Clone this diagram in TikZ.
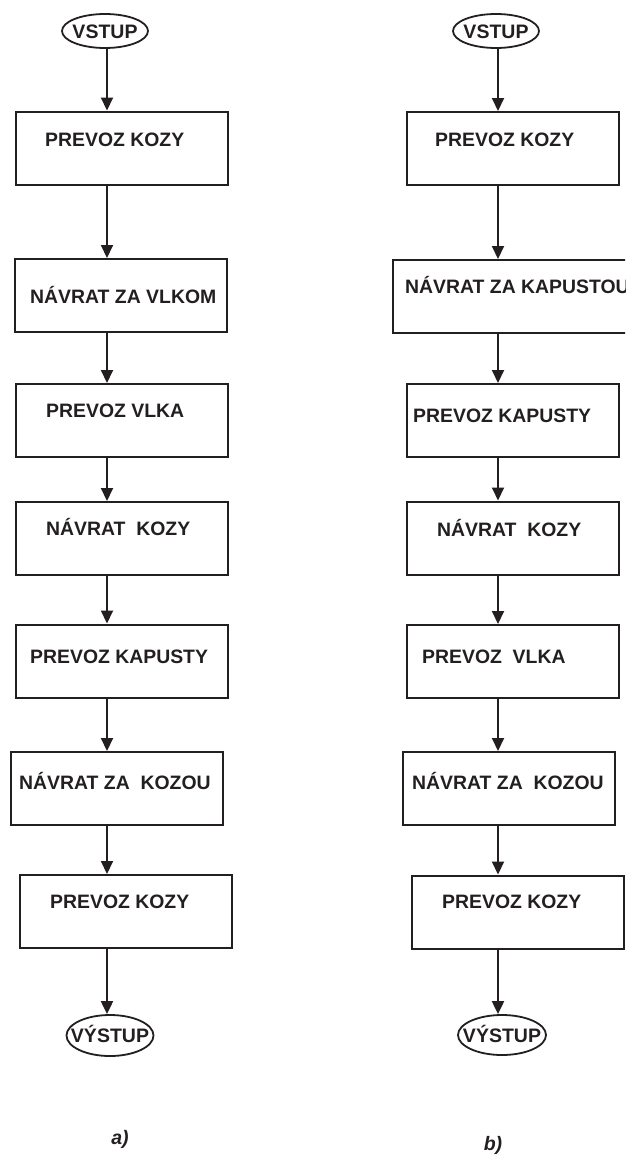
\documentclass[tikz,border=0pt]{standalone}
\usepackage{fontspec}
\setmainfont{Liberation Sans}
\usetikzlibrary{arrows.meta,shapes.geometric}
\definecolor{Ink}{HTML}{231F20}

\begin{document}
\begin{tikzpicture}[
  x=1pt, y=-1pt,
  stepbox/.style={draw=Ink, line width=2pt, minimum width=212pt,
                  minimum height=73pt, inner sep=0pt},
  txt/.style={anchor=west, inner sep=0pt, text=Ink, text height=13.9pt,
              text depth=0pt, font=\fontsize{19.4}{23}\selectfont\bfseries},
  term/.style={ellipse, draw=Ink, line width=1.8pt, inner sep=0pt, text=Ink,
               text height=14pt, text depth=0pt,
               font=\fontsize{19.5}{23}\selectfont\bfseries},
  sublbl/.style={text=Ink, font=\fontsize{19.5}{23}\selectfont\bfseries\itshape},
  arr/.style={-{Triangle[length=13pt, width=12pt]}, line width=2pt, draw=Ink}
]
  \useasboundingbox (0,0) rectangle (625,1159);
  \clip (0,0) rectangle (625,1159);

  \coordinate (axA) at (107,0);
  \coordinate (axB) at (498,0);

  % a) left column
  \node[term, minimum width=86pt, minimum height=34pt] (inA) at (105,31) {\makebox[0pt]{VSTUP}};
  \node[stepbox] (A1) at (121.5,148)   {};
  \node[stepbox] (A2) at (120.5,295.5) {};
  \node[stepbox] (A3) at (122,420.5)   {};
  \node[stepbox] (A4) at (122,538.5)   {};
  \node[stepbox] (A5) at (122,661)     {};
  \node[stepbox] (A6) at (117,788.5)   {};
  \node[stepbox] (A7) at (126,911.5)   {};
  \node[term, minimum width=87pt, minimum height=41pt] (outA) at (110,1035.5) {\makebox[0pt]{VÝSTUP}};

  \node[txt] (tA1) at (45,140)  {PREVOZ KOZY};
  \node[txt] (tA2) at (30,297)  {NÁVRAT ZA VLKOM};
  \node[txt] (tA3) at (46,411)  {PREVOZ VLKA};
  \node[txt] (tA4) at (46,529)  {NÁVRAT\ \ KOZY};
  \node[txt] (tA5) at (30,657)  {PREVOZ KAPUSTY};
  \node[txt] (tA6) at (19,783)  {NÁVRAT ZA\ \ KOZOU};
  \node[txt] (tA7) at (50,902)  {PREVOZ KOZY};

  % b) right column
  \node[term, minimum width=86pt, minimum height=34pt] (inB) at (496,31) {\makebox[0pt]{VSTUP}};
  \node[stepbox] (B1) at (513,148.5)   {};
  \node[stepbox, minimum width=247pt] (B2) at (516.5,296.5) {};
  \node[stepbox] (B3) at (513,420.5)   {};
  \node[stepbox] (B4) at (513,538)     {};
  \node[stepbox] (B5) at (513,661.5)   {};
  \node[stepbox] (B6) at (509,788.5)   {};
  \node[stepbox] (B7) at (517.5,912)   {};
  \node[term, minimum width=88pt, minimum height=40pt] (outB) at (502,1035) {\makebox[0pt]{VÝSTUP}};

  \node[txt] (tB1) at (435,140) {PREVOZ KOZY};
  \node[txt] (tB2) at (405,287) {NÁVRAT ZA KAPUSTOU};
  \node[txt] (tB3) at (413,416) {PREVOZ KAPUSTY};
  \node[txt] (tB4) at (437,530) {NÁVRAT\ \ KOZY};
  \node[txt] (tB5) at (422,657) {PREVOZ\ \ VLKA};
  \node[txt] (tB6) at (412,783) {NÁVRAT ZA\ \ KOZOU};
  \node[txt] (tB7) at (442,902) {PREVOZ KOZY};

  % arrows
  \foreach \u/\v in {inA/A1, A1/A2, A2/A3, A3/A4, A4/A5, A5/A6, A6/A7, A7/outA}
    \draw[arr] (\u.south -| axA) -- (\v.north -| axA);
  \foreach \u/\v in {inB/B1, B1/B2, B2/B3, B3/B4, B4/B5, B5/B6, B6/B7, B7/outB}
    \draw[arr] (\u.south -| axB) -- (\v.north -| axB);

  \node[sublbl] (capA) at (120,1139) {a)};
  \node[sublbl] (capB) at (493,1145) {b)};
\end{tikzpicture}
\end{document}
